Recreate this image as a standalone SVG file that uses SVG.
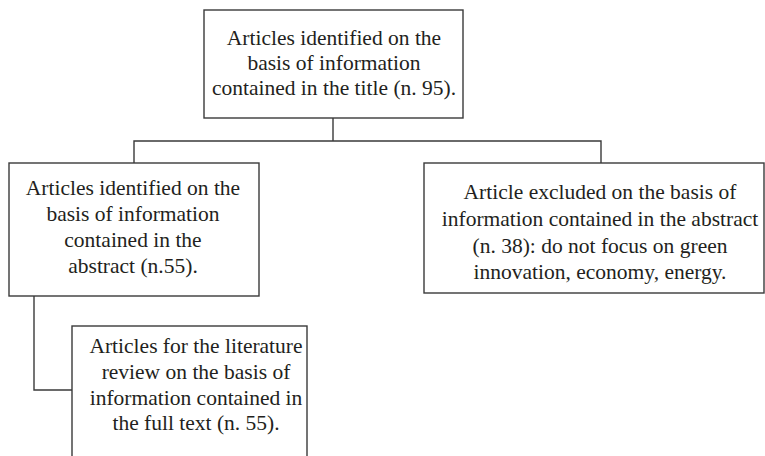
<svg xmlns="http://www.w3.org/2000/svg" width="765" height="456" viewBox="0 0 765 456">
<style>
.box{fill:#fff;stroke:#3a3a3a;stroke-width:1.4}
.ln{fill:none;stroke:#3a3a3a;stroke-width:1.4}
text{font-family:"Liberation Serif",serif;font-size:21.5px;fill:#231f20;text-anchor:middle}
</style>
<rect width="765" height="456" fill="#fff"/>
<g id="connectors">
<path class="ln" d="M333 118V141M134 163V141H601V163"/>
<path class="ln" d="M34 296V390H72"/>
</g>
<g id="n1">
<rect class="box" x="204" y="10" width="259" height="108"/>
<text x="334" y="45">Articles identified on the</text>
<text x="334" y="70">basis of information</text>
<text x="334" y="95">contained in the title (n. 95).</text>
</g>
<g id="n2">
<rect class="box" x="9" y="163" width="250" height="133"/>
<text x="133" y="195">Articles identified on the</text>
<text x="133" y="221">basis of information</text>
<text x="133" y="247">contained in the</text>
<text x="133" y="273">abstract (n.55).</text>
</g>
<g id="n3">
<rect class="box" x="424" y="163" width="340" height="130"/>
<text x="600" y="199">Article excluded on the basis of</text>
<text x="600" y="226">information contained in the abstract</text>
<text x="600" y="253">(n. 38): do not focus on green</text>
<text x="600" y="279">innovation, economy, energy.</text>
</g>
<g id="n4">
<rect class="box" x="72" y="326" width="235" height="140"/>
<text x="196" y="353">Articles for the literature</text>
<text x="196" y="379">review on the basis of</text>
<text x="196" y="405">information contained in</text>
<text x="196" y="430">the full text (n. 55).</text>
</g>
</svg>
